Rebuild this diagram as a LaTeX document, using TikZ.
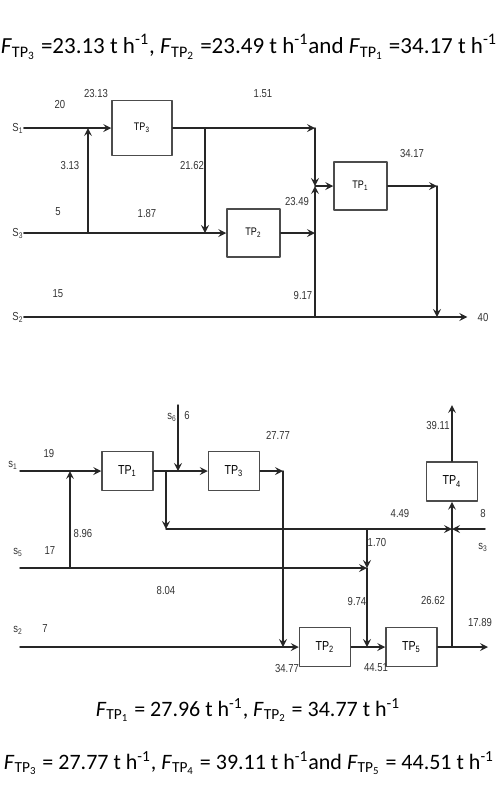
\documentclass[tikz,border=0pt]{standalone}
\usepackage{fontspec}
\setmainfont{Carlito}
\newfontfamily\narrowfont[FakeStretch=0.82]{Liberation Sans}
\usetikzlibrary{arrows}

\newcommand{\Ftp}[1]{\textit{F}\textsubscript{TP\textsubscript{#1}}}
\newcommand{\perh}{t h\textsuperscript{-1}}

\begin{document}
\begin{tikzpicture}[x=0.5pt, y=-0.5pt, line cap=round, line join=round, >=stealth,
	flow/.style={draw=black!85, line width=0.75pt},
	unit/.style={draw=black!70, line width=0.75pt, inner sep=0pt,
		minimum width=26.5pt, minimum height=24pt,
		font=\narrowfont\fontsize{5.5}{6}\selectfont},
	lbl/.style={inner sep=0pt, text=black!80, font=\narrowfont\fontsize{5.8}{6}\selectfont},
	eqn/.style={inner sep=0pt, font=\fontsize{11}{13}\selectfont}]
	% Page frame (pixel units of the reference)
	\useasboundingbox (0,0) rectangle (500,800);
	
	% ---------------- First network ----------------
	\node[eqn, font=\fontsize{11.5}{13}\selectfont] (eqtop) at (249,47) {\Ftp{3} =23.13 \perh, \Ftp{2} =23.49 \perh and \Ftp{1} =34.17 \perh};
	
	% Treatment units
	\node[unit, minimum width=30pt, minimum height=27.5pt] (tp3) at (142,128) {TP\textsubscript{3}};
	\node[unit] (tp2) at (253.5,233) {TP\textsubscript{2}};
	\node[unit] (tp1) at (360.5,186) {TP\textsubscript{1}};
	
	% Sources and product
	\node[lbl] (s1) at (18,128) {S\textsubscript{1}};
	\node[lbl] (s3) at (18,233) {S\textsubscript{3}};
	\node[lbl] (s2) at (18,317) {S\textsubscript{2}};
	\node[lbl] (prod) at (483,317) {40};
	
	% Branch and junction points
	\coordinate (rec) at (88,233);   \coordinate (recup) at (88,128);
	\coordinate (split) at (205,128); \coordinate (splitdn) at (205,233);
	\coordinate (j1) at (315,128);  \coordinate (mix) at (315,186);
	\coordinate (j2) at (315,233);  \coordinate (j3) at (315,317);
	\coordinate (o1) at (437,186);  \coordinate (o2) at (437,317);
	
	% Streams
	\draw[flow,->] (s1) -- (tp3);
	\draw[flow,->] (rec) -- (recup);
	\draw[flow,->] (tp3) -- (j1);
	\draw[flow,->] (j1) -- (mix);
	\draw[flow,->] (split) -- (splitdn);
	\draw[flow,->] (s3) -- (tp2);
	\draw[flow,->] (tp2) -- (j2);
	\draw[flow,->] (j3) -- (mix);
	\draw[flow,->] (mix) -- (tp1);
	\draw[flow,->] (tp1) -- (o1);
	\draw[flow,->] (o1) -- (o2);
	\draw[flow,->, shorten >=5pt] (s2) -- (prod);
	
	% Flow rates
	\node[lbl] (f20) at (60,104) {20};
	\node[lbl] (f2313) at (96,93) {23.13};
	\node[lbl] (f313) at (70,165) {3.13};
	\node[lbl] (f2162) at (192,165) {21.62};
	\node[lbl] (f151) at (263,94) {1.51};
	\node[lbl] (f3417) at (412,153) {34.17};
	\node[lbl] (f5) at (58,212) {5};
	\node[lbl] (f187) at (147,213) {1.87};
	\node[lbl] (f2349) at (297,201) {23.49};
	\node[lbl] (f15) at (58,294) {15};
	\node[lbl] (f917) at (303,295) {9.17};
	
	% ---------------- Second network ----------------
	\begin{scope}[unit/.append style={minimum width=25.5pt, minimum height=19.5pt,
			font=\narrowfont\fontsize{6.5}{7}\selectfont}]
		\node[unit] (tpa1) at (127.5,471) {TP\textsubscript{1}};
		\node[unit] (tpa3) at (234,471) {TP\textsubscript{3}};
		\node[unit] (tpa4) at (452,481.5) {TP\textsubscript{4}};
		\node[unit] (tpa2) at (325,647) {TP\textsubscript{2}};
		\node[unit] (tpa5) at (411.5,647) {TP\textsubscript{5}};
	\end{scope}
	
	% Stream ends and junctions
	\coordinate (ina1) at (20,471);   \coordinate (ina5) at (20,568);
	\coordinate (ina2) at (20,647);   \coordinate (ina3) at (485,529);
	\coordinate (ina6) at (178,405);  \coordinate (s6in) at (178,471);
	\coordinate (rc) at (70,568);     \coordinate (rcup) at (70,471);
	\coordinate (sb) at (166,471);    \coordinate (sbdn) at (166,529);
	\coordinate (jn) at (452,529);
	\coordinate (t3out) at (283,471); \coordinate (t3dn) at (283,647);
	\coordinate (b170) at (367,529);  \coordinate (m5) at (367,568);
	\coordinate (m5dn) at (367,647);
	\coordinate (t5out) at (452,647); \coordinate (prodb) at (488,647);
	\coordinate (tp4top) at (452,405);
	
	% Streams
	\draw[flow,->] (ina1) -- (tpa1);
	\draw[flow,->] (rc) -- (rcup);
	\draw[flow,->] (tpa1) -- (tpa3);
	\draw[flow,->] (ina6) -- (s6in);
	\draw[flow,->] (sb) -- (sbdn);
	\draw[flow,->] (sbdn) -- (jn);
	\draw[flow,->] (ina3) -- (jn);
	\draw[flow,->] (tpa3) -- (t3out);
	\draw[flow,->] (t3out) -- (t3dn);
	\draw[flow,->] (b170) -- (m5);
	\draw[flow,->] (ina5) -- (m5);
	\draw[flow,->] (m5) -- (m5dn);
	\draw[flow,->] (ina2) -- (tpa2);
	\draw[flow,->] (tpa2) -- (tpa5);
	\draw[flow,->] (tpa5) -- (prodb);
	\draw[flow,->] (t5out) -- (tpa4);
	\draw[flow,->] (tpa4) -- (tp4top);
	
	% Source names
	\node[lbl] (ls1) at (13,465) {s\textsubscript{1}};
	\node[lbl] (ls6) at (172,417) {s\textsubscript{6}};
	\node[lbl] (ls3) at (483,547) {s\textsubscript{3}};
	\node[lbl] (ls5) at (18,552) {s\textsubscript{5}};
	\node[lbl] (ls2) at (18,630) {s\textsubscript{2}};
	
	% Flow rates
	\node[lbl] (g19) at (49,453) {19};
	\node[lbl] (g6) at (187,415) {6};
	\node[lbl] (g2777) at (278,435) {27.77};
	\node[lbl] (g3911) at (438,425) {39.11};
	\node[lbl] (g449) at (400,513) {4.49};
	\node[lbl] (g8) at (483,513) {8};
	\node[lbl] (g896) at (83,533) {8.96};
	\node[lbl] (g170) at (377,542) {1.70};
	\node[lbl] (g17) at (50,551) {17};
	\node[lbl] (g804) at (166,590) {8.04};
	\node[lbl] (g974) at (357,601) {9.74};
	\node[lbl] (g2662) at (433,600) {26.62};
	\node[lbl] (g1789) at (480,622) {17.89};
	\node[lbl] (g7) at (45,629) {7};
	\node[lbl] (g3477) at (287,668) {34.77};
	\node[lbl] (g4451) at (376,668) {44.51};
	
	% Results
	\node[eqn] (eqb1) at (248,710) {\Ftp{1} = 27.96 \perh, \Ftp{2} = 34.77 \perh};
	\node[eqn] (eqb2) at (249,763) {\Ftp{3} = 27.77 \perh, \Ftp{4} = 39.11 \perh and \Ftp{5} = 44.51 \perh};
\end{tikzpicture}
\end{document}
